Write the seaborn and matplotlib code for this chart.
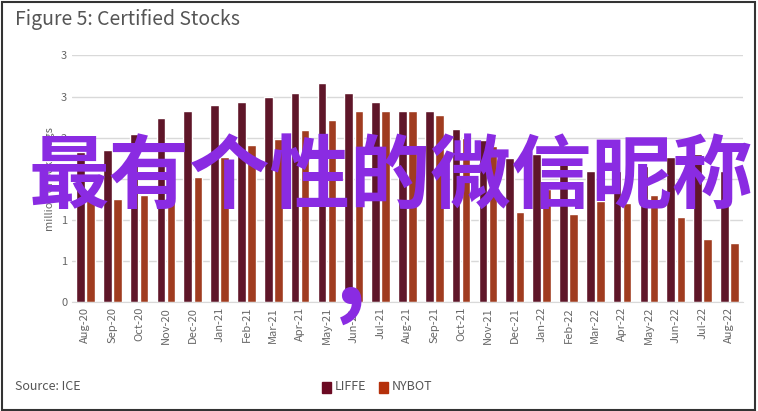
import math
import matplotlib
matplotlib.use("Agg")
import matplotlib.pyplot as plt
import seaborn as sns
import pandas as pd
from matplotlib.ticker import FuncFormatter
from matplotlib.patches import Rectangle

months = ["Aug-20","Sep-20","Oct-20","Nov-20","Dec-20","Jan-21","Feb-21","Mar-21","Apr-21","May-21",
          "Jun-21","Jul-21","Aug-21","Sep-21","Oct-21","Nov-21","Dec-21","Jan-22","Feb-22","Mar-22",
          "Apr-22","May-22","Jun-22","Jul-22","Aug-22"]
liffe = [1.82,1.85,2.05,2.24,2.32,2.40,2.44,2.50,2.54,2.67,2.54,2.44,2.32,2.32,2.10,1.97,1.75,1.80,1.75,1.60,1.60,1.65,1.76,1.80,1.60]
nybot = [1.24,1.26,1.30,1.40,1.52,1.76,1.91,1.98,2.09,2.22,2.33,2.33,2.33,2.27,2.00,1.90,1.10,1.37,1.07,1.23,1.20,1.30,1.04,0.77,0.72]

df = pd.DataFrame({"month": months*2, "value": liffe+nybot,
                   "series": ["LIFFE"]*len(months)+["NYBOT"]*len(months)})

sns.set_style("white")
plt.rcParams['font.family'] = ['Noto Sans CJK SC', 'DejaVu Sans']
fig = plt.figure(figsize=(7.58, 4.11), dpi=100)
ax = fig.add_axes([0.095, 0.265, 0.885, 0.6])
sns.barplot(data=df, x="month", y="value", hue="series", palette=["#6b0a23", "#b5300b"],
            width=0.75, gap=0.15, ax=ax, legend=False)
ax.set_ylim(0, 3.0)
ax.set_yticks([0, 0.5, 1, 1.5, 2, 2.5, 3])
ax.yaxis.set_major_formatter(FuncFormatter(lambda v, p: str(math.floor(v + 0.5))))
ax.yaxis.grid(True, color="#d9d9d9", lw=1)
ax.set_axisbelow(True)
for s in ["top", "right", "left"]:
    ax.spines[s].set_visible(False)
ax.spines["bottom"].set_color("#d9d9d9")
ax.tick_params(axis="both", colors="#666666", labelsize=8, length=0)
ax.set_xticks(range(len(months)))
ax.set_xticklabels(months, rotation=90)
ax.set_xlabel("")
ax.set_ylabel("million of 60kg bags", color="#666666", fontsize=8)

fig.text(0.02, 0.94, "Figure 5: Certified Stocks", fontsize=14, color="#555555")
fig.text(0.02, 0.05, "Source: ICE", fontsize=9, color="#555555")
fig.patches.append(Rectangle((0.425, 0.045), 0.012, 0.025, color="#6b0a23", transform=fig.transFigure))
fig.text(0.442, 0.05, "LIFFE", fontsize=9, color="#555555")
fig.patches.append(Rectangle((0.5, 0.045), 0.012, 0.025, color="#b5300b", transform=fig.transFigure))
fig.text(0.517, 0.05, "NYBOT", fontsize=9, color="#555555")
fig.patches.append(Rectangle((0.002, 0.003), 0.994, 0.992, fill=False, ec="#333333", lw=1.5, transform=fig.transFigure))

fig.text(0.515, 0.565, "最有个性的微信昵称", fontsize=58, color="#8a2be2", fontweight="bold",
         ha="center", va="center")
fig.text(0.463, 0.33, ",", fontsize=70, color="#8a2be2", fontweight="bold", ha="center", va="center")
fig.savefig("out.png", dpi=100)
